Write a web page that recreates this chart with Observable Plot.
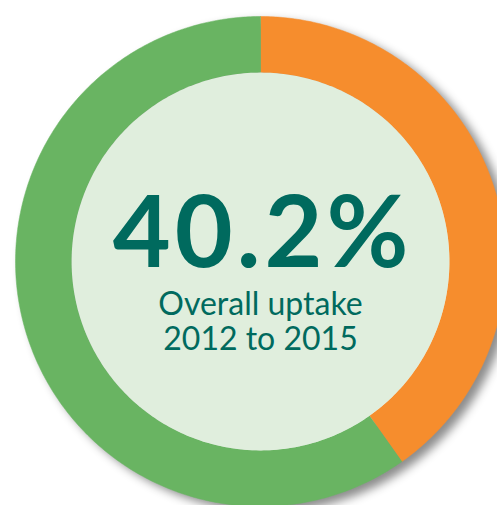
<!DOCTYPE html>
<html><head><meta charset="utf-8">
<script src="https://cdn.jsdelivr.net/npm/d3@7"></script>
<script src="https://cdn.jsdelivr.net/npm/@observablehq/plot@0.6"></script>
<style>
html,body{margin:0;padding:0;background:#fff;overflow:hidden}
</style></head>
<body><div id="chart"></div>
<script>
const categories = ["Uptake", "No uptake"];
const values = [40.2, 59.8];
const colors = ["#F68D2D", "#69B462"];
const headline = "40.2%";
const subLines = ["Overall uptake", "2012 to 2015"];

const innerRatio = 0.771;
const total = d3.sum(values);
const slices = [];
let acc = 0;
categories.forEach((c, i) => {
  const a0 = acc / total * 2 * Math.PI;
  acc += values[i];
  const a1 = acc / total * 2 * Math.PI;
  const n = Math.max(4, Math.ceil((a1 - a0) / 0.01));
  const pts = [];
  for (let k = 0; k <= n; k++) {
    const a = a0 + (a1 - a0) * k / n;
    pts.push({cat: c, x: Math.sin(a), y: Math.cos(a)});
  }
  for (let k = n; k >= 0; k--) {
    const a = a0 + (a1 - a0) * k / n;
    pts.push({cat: c, x: innerRatio * Math.sin(a), y: innerRatio * Math.cos(a)});
  }
  slices.push(...pts);
});
const hole = d3.range(0, 361).map(d => ({x: innerRatio * Math.sin(d * Math.PI / 180), y: innerRatio * Math.cos(d * Math.PI / 180)}));

const plot = Plot.plot({
  width: 497,
  height: 505,
  margin: 0,
  x: {type: "linear", domain: [-1, 1], range: [15, 505], axis: null},
  y: {type: "linear", domain: [-1, 1], range: [506, 16], axis: null},
  color: {domain: categories, range: colors},
  style: {background: "#fff"},
  marks: [
    Plot.line(slices, {x: "x", y: "y", z: "cat", fill: "cat", stroke: "cat", strokeWidth: 0.5, curve: "linear"}),
    Plot.line(hole, {x: "x", y: "y", fill: "#E0EEDD", stroke: "none"}),
    Plot.text([headline], {x: () => 0, y: () => 0, text: d => d, dy: -27, dx: 2, fill: "#006A5E", fontSize: 100, fontWeight: 700, fontFamily: "Lato", lineAnchor: "middle"}),
    Plot.text([subLines.join("\n")], {x: () => 0, y: () => 0, text: d => d, dy: 59.5, fill: "#006A5E", fontSize: 32, fontWeight: 400, fontFamily: "Lato", lineAnchor: "middle", lineHeight: 1.1})
  ]
});
const g = plot.querySelector('g[aria-label="line"]');
if (g) g.style.filter = "drop-shadow(7px 5px 5px rgba(0,0,0,0.45))";
const texts = plot.querySelectorAll('g[aria-label="text"]');
if (texts[0]) texts[0].style.letterSpacing = "4px";
document.getElementById("chart").appendChild(plot);
</script></body></html>
